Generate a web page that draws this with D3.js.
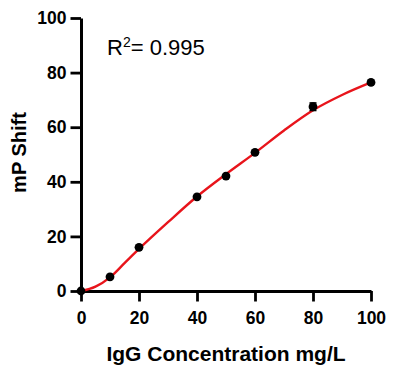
<!DOCTYPE html>
<html>
<head>
<meta charset="utf-8">
<script src="https://cdn.jsdelivr.net/npm/d3@7"></script>
<style>
  body { margin: 0; background: #fff; }
  svg { display: block; font-family: "Liberation Sans", Arial, sans-serif; }
</style>
</head>
<body>
<svg id="chart" width="393" height="371"></svg>
<script>
// measured points (IgG mg/L vs mP shift)
const conc = [0, 10, 20, 40, 50, 60, 80, 100];
const shift = [0, 5.2, 16.0, 34.5, 42.1, 50.8, 67.5, 76.4];
const shiftErr = [0, 0, 0, 0, 0, 0, 1.4, 0];

// fitted curve
const fitX = [0, 5, 10, 15, 20, 30, 40, 50, 60, 70, 80, 90, 100];
const fitY = [0, 1.6, 5.0, 10.2, 15.4, 25.2, 34.6, 42.8, 50.6, 58.8, 66.2, 71.8, 76.4];

const xTicks = [0, 20, 40, 60, 80, 100];
const yTicks = [0, 20, 40, 60, 80, 100];

const svg = d3.select("#chart");
const m = { left: 81, top: 18 }, w = 290, h = 273;

const x = d3.scaleLinear().domain([0, 100]).range([0, w]);
const y = d3.scaleLinear().domain([0, 100]).range([h, 0]);

const g = svg.append("g").attr("transform", `translate(${m.left},${m.top})`);

// axes
const xAxis = g.append("g")
  .attr("transform", `translate(0,${h})`)
  .call(d3.axisBottom(x).tickValues(xTicks).tickSize(10.5).tickPadding(10).tickSizeOuter(0));
const yAxis = g.append("g")
  .call(d3.axisLeft(y).tickValues(yTicks).tickSize(10.5).tickPadding(4).tickSizeOuter(0));

[xAxis, yAxis].forEach(a => {
  a.select(".domain").attr("stroke", "#000").attr("stroke-width", 3);
  a.selectAll(".tick line").attr("stroke", "#000").attr("stroke-width", 2.8);
  a.selectAll(".tick text")
    .attr("fill", "#000")
    .style("font-size", "17.5px")
    .style("font-weight", "bold")
    .style("font-family", "'Liberation Sans', Arial, sans-serif");
});

// fit line
const line = d3.line()
  .x((d, i) => x(fitX[i]))
  .y(d => y(d))
  .curve(d3.curveMonotoneX);

g.append("path")
  .datum(fitY)
  .attr("fill", "none")
  .attr("stroke", "#e8141b")
  .attr("stroke-width", 2.4)
  .attr("d", line);

// error bars
const pts = conc.map((c, i) => ({ c, v: shift[i], e: shiftErr[i] }));
const eb = g.selectAll("g.err").data(pts.filter(d => d.e > 0)).join("g").attr("class", "err");
eb.append("line")
  .attr("x1", d => x(d.c)).attr("x2", d => x(d.c))
  .attr("y1", d => y(d.v + d.e)).attr("y2", d => y(d.v - d.e))
  .attr("stroke", "#000").attr("stroke-width", 1.5);
eb.append("line")
  .attr("x1", d => x(d.c) - 3.5).attr("x2", d => x(d.c) + 3.5)
  .attr("y1", d => y(d.v + d.e)).attr("y2", d => y(d.v + d.e))
  .attr("stroke", "#000").attr("stroke-width", 1.5);
eb.append("line")
  .attr("x1", d => x(d.c) - 3.5).attr("x2", d => x(d.c) + 3.5)
  .attr("y1", d => y(d.v - d.e)).attr("y2", d => y(d.v - d.e))
  .attr("stroke", "#000").attr("stroke-width", 1.5);

// points
g.selectAll("circle.pt").data(pts).join("circle")
  .attr("class", "pt")
  .attr("cx", d => x(d.c))
  .attr("cy", d => y(d.v))
  .attr("r", 4.4)
  .attr("fill", "#000");

// R squared
const r2 = svg.append("text")
  .attr("x", 107).attr("y", 55)
  .style("font-size", "22px")
  .attr("fill", "#000");
r2.append("tspan").text("R");
r2.append("tspan").attr("dy", -8).style("font-size", "14px").text("2");
r2.append("tspan").attr("dy", 8).text("= 0.995");

// axis titles
svg.append("text")
  .attr("x", m.left + w / 2).attr("y", 361)
  .attr("text-anchor", "middle")
  .style("font-size", "21px").style("font-weight", "bold")
  .text("IgG Concentration mg/L");

svg.append("text")
  .attr("transform", `translate(26,${m.top + h / 2 - 2}) rotate(-90)`)
  .attr("text-anchor", "middle")
  .style("font-size", "20px").style("font-weight", "bold")
  .text("mP Shift");
</script>
</body>
</html>
